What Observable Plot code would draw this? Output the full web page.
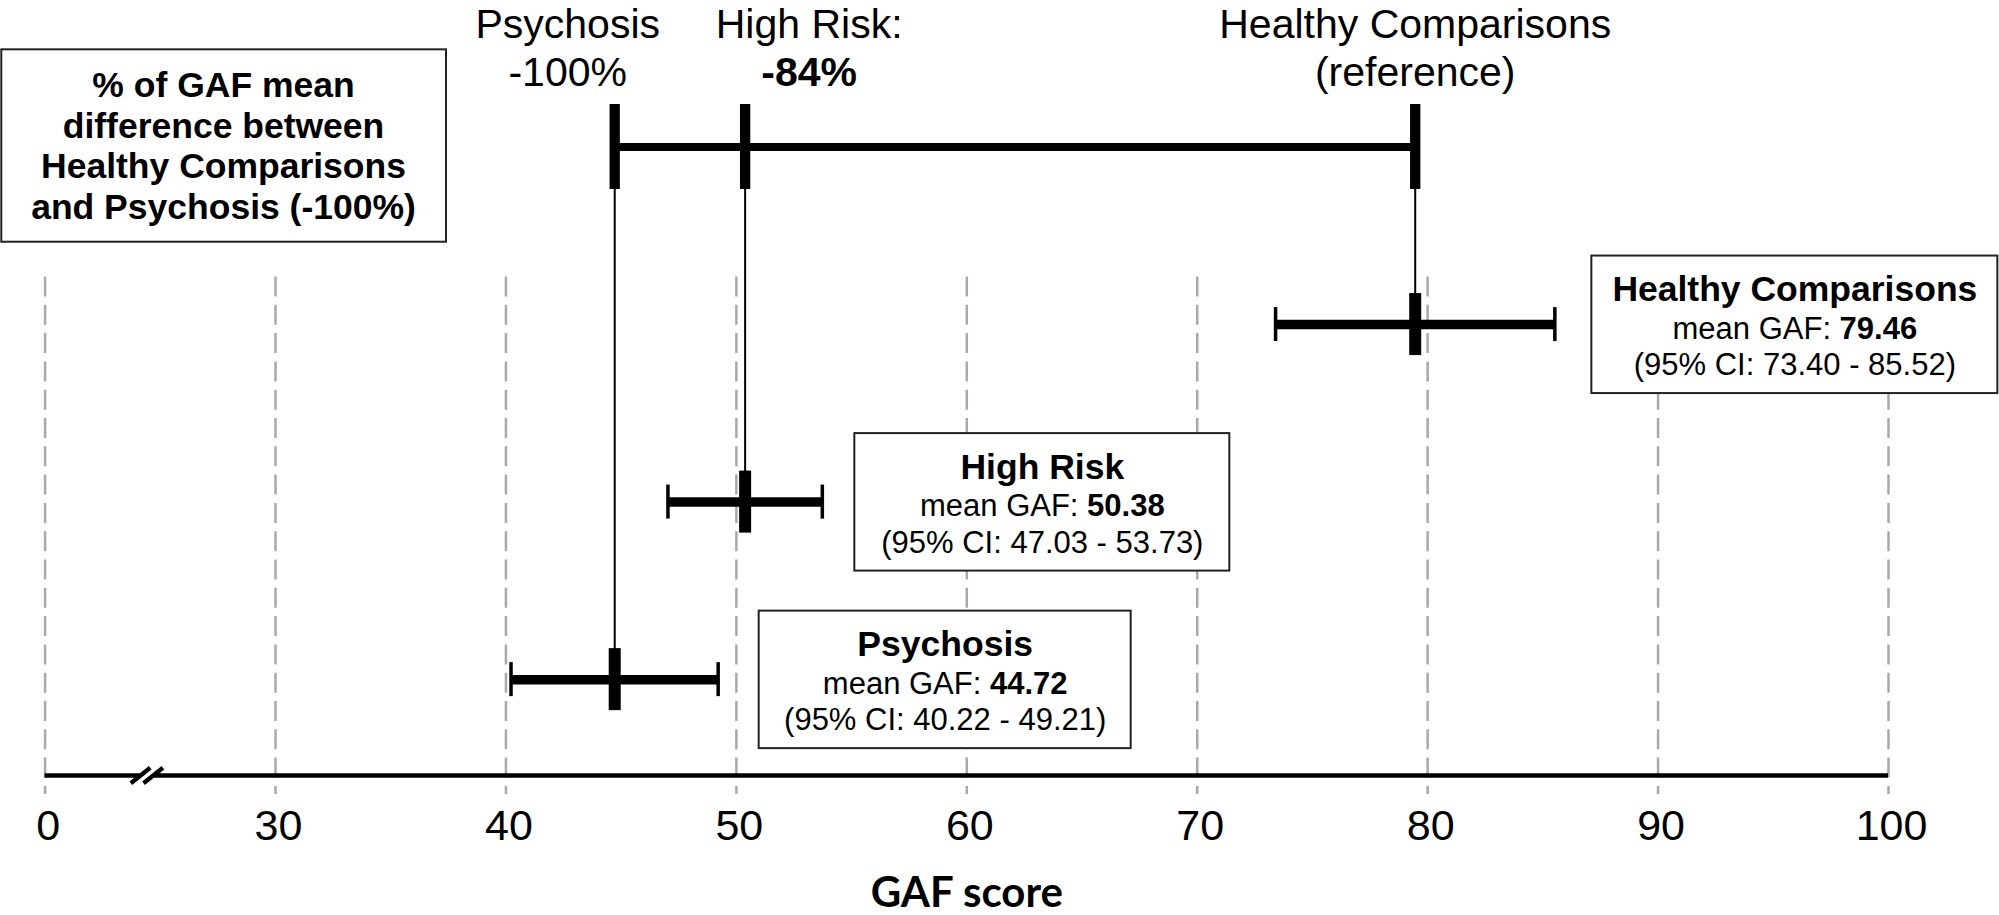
<!DOCTYPE html>
<html>
<head>
<meta charset="utf-8">
<script src="https://cdn.jsdelivr.net/npm/d3@7"></script>
<script src="https://cdn.jsdelivr.net/npm/@observablehq/plot@0.6"></script>
<style>
  html, body { margin: 0; padding: 0; background: #fff; overflow: hidden; }
  #chart svg { display: block; }
</style>
</head>
<body>
<div id="chart"></div>
<script>
// ---------------- data ----------------
const groups = ["Healthy Comparisons", "High Risk", "Psychosis"];
const meanGAF = [79.46, 50.38, 44.72];
const ciLow = [73.40, 47.03, 40.22];
const ciHigh = [85.52, 53.73, 49.21];
const topLabels = ["Healthy Comparisons", "High Risk:", "Psychosis"];
const referenceLabel = "(reference)";
const xTicks = [0, 30, 40, 50, 60, 70, 80, 90, 100];
const xTickLabels = ["0", "30", "40", "50", "60", "70", "80", "90", "100"];
const axisLabel = "GAF score";
const noteLines = ["% of GAF mean", "difference between", "Healthy Comparisons", "and Psychosis (-100%)"];

// ---------------- derived table ----------------
const refMean = meanGAF[0];
const psyMean = meanGAF[groups.length - 1];
const data = groups.map((g, i) => ({
  group: g,
  mean: meanGAF[i],
  lo: ciLow[i],
  hi: ciHigh[i],
  row: groups.length - i,
  top1: topLabels[i],
  top2: i === 0 ? referenceLabel
      : `-${Math.round((refMean - meanGAF[i]) / (refMean - psyMean) * 100)}%`
}));

// ---------------- layout ----------------
const W = 1999, H = 915;
const mL = 44.6, mR = 111, mT = 40, mB = 140;
const yDomain = [0.46, 4.6];
const yTop = 4;                                   // bracket row
const pxPerUnit = (H - mT - mB) / (yDomain[1] - yDomain[0]);
const u = px => px / pxPerUnit;
const xRange = xTicks.map((_, i) => mL + i * (W - mL - mR) / (xTicks.length - 1));
const F = "Liberation Sans, Arial, Helvetica, sans-serif";
const topDx = [0, 64, -47];
const boxDx = [240, 220, 227];     // text/box centre offset from upper CI (px)
const boxW = [406, 375, 372];      // box widths (px)
const breakAt = 13.25;

const slashPair = {
  draw(ctx) {
    for (const o of [-6.35, 6.35]) {
      ctx.moveTo(o - 9.7, 7.7);
      ctx.lineTo(o + 9.7, -7.7);
    }
  }
};
const slashGap = {
  draw(ctx) {
    ctx.moveTo(-11, 8.7);
    ctx.lineTo(11, -8.7);
  }
};

const boxStyle = {fill: "#fff", stroke: "#222", strokeWidth: 2};

const marks = [
  // dashed grid
  Plot.ruleX(xTicks, {x: d => d, y1: yTop - u(130), y2: yDomain[0] - u(19),
    stroke: "#a9a9a9", strokeWidth: 2.5, strokeDasharray: "20 8.3"}),
  // axis line
  Plot.ruleY([yDomain[0]], {x1: xTicks[0], x2: xTicks[xTicks.length - 1], stroke: "#000", strokeWidth: 4.5}),
  // axis break
  Plot.dot([breakAt], {x: d => d, y: yDomain[0], symbol: slashGap, fill: "none", stroke: "#fff", strokeWidth: 8.5, r: 5}),
  Plot.dot([breakAt], {x: d => d, y: yDomain[0], symbol: slashPair, fill: "none", stroke: "#000", strokeWidth: 4.3, r: 5}),
  // connectors
  Plot.ruleX(data, {x: "mean", y1: yTop, y2: "row", stroke: "#000", strokeWidth: 2}),
  // bracket
  Plot.ruleY([yTop], {x1: d3.min(meanGAF), x2: d3.max(meanGAF), stroke: "#000", strokeWidth: 8}),
  Plot.ruleX(data, {x: "mean", y1: yTop - u(42.5), y2: yTop + u(42.5), stroke: "#000", strokeWidth: 10.3}),
  // CI bars
  Plot.ruleY(data, {y: "row", x1: "lo", x2: "hi", stroke: "#000", strokeWidth: 9.5}),
  Plot.ruleX(data.flatMap(d => [{v: d.lo, row: d.row}, {v: d.hi, row: d.row}]),
    {x: "v", y1: d => d.row - u(17), y2: d => d.row + u(17), stroke: "#000", strokeWidth: 3.5}),
  // mean markers
  Plot.ruleX(data, {x: "mean", y1: d => d.row - u(31), y2: d => d.row + u(31), stroke: "#000", strokeWidth: 12}),
  // tick labels
  Plot.text(xTicks, {x: d => d, text: (d, i) => xTickLabels[i], frameAnchor: "bottom", dy: 64, dx: 3,
    lineAnchor: "bottom", fontSize: 43, fontFamily: F, fill: "#000"}),
  // axis title
  Plot.text([axisLabel], {frameAnchor: "bottom", dy: 131, lineAnchor: "bottom",
    fontSize: 42, fontFamily: "Lato, Open Sans, sans-serif", fontWeight: 700, fill: "#000"}),
  // top labels
  ...data.map((d, i) => Plot.text([d], {x: "mean", y: yTop, text: "top1", dx: topDx[i], dy: -109.5,
    lineAnchor: "bottom", fontSize: 41, fontFamily: F, fill: "#000"})),
  ...data.map((d, i) => Plot.text([d], {x: "mean", y: yTop, text: "top2", dx: topDx[i], dy: -61.5,
    lineAnchor: "bottom", fontSize: 41, fontFamily: F, fill: "#000", fontWeight: i === 1 ? "bold" : "normal"})),
  // note box
  Plot.rect([noteLines], {x1: xTicks[0], x2: xTicks[0], y1: yTop, y2: yTop,
    insetLeft: -43.3, insetRight: -401.4, insetTop: -97.2, insetBottom: -95.2, ...boxStyle}),
  Plot.text([noteLines.join("\n")], {frameAnchor: "top-left", textAnchor: "middle", dx: 178.4, dy: 178.3,
    lineAnchor: "bottom", lineHeight: 40.5 / 35.5, fontSize: 35.5, fontWeight: "bold", fontFamily: F,
    fill: "#000"}),
  // group boxes
  ...data.flatMap((d, i) => [
    Plot.rect([d], {x1: "hi", x2: "hi", y1: "row", y2: "row",
      insetLeft: boxDx[i] - boxW[i] / 2, insetRight: -(boxDx[i] + boxW[i] / 2),
      insetTop: -68.5, insetBottom: -69, ...boxStyle}),
    Plot.text([d], {x: "hi", y: "row", dx: boxDx[i], dy: -23.3, text: "group", lineAnchor: "bottom",
      fontSize: 35.5, fontWeight: "bold", fontFamily: F, fill: "#000"}),
    Plot.text([d], {x: "hi", y: "row", dx: boxDx[i], dy: 14.3, text: v => `mean GAF: ${v.mean.toFixed(2)}`,
      lineAnchor: "bottom", fontSize: 31, fontFamily: F, fill: "#000"}),
    Plot.text([d], {x: "hi", y: "row", dx: boxDx[i], dy: 50.8,
      text: v => `(95% CI: ${v.lo.toFixed(2)} - ${v.hi.toFixed(2)})`,
      lineAnchor: "bottom", fontSize: 31, fontFamily: F, fill: "#000"})
  ])
];

const svg = Plot.plot({
  width: W, height: H,
  marginLeft: mL, marginRight: mR, marginTop: mT, marginBottom: mB,
  x: {type: "linear", domain: xTicks, range: xRange, axis: null},
  y: {type: "linear", domain: yDomain, axis: null},
  style: {fontFamily: F, color: "#000", background: "#fff"},
  marks
});
document.getElementById("chart").append(svg);

// bold value in "mean GAF: xx.xx"
const NS = "http://www.w3.org/2000/svg";
svg.querySelectorAll("text").forEach(t => {
  const s = t.textContent;
  if (!s.startsWith("mean GAF:")) return;
  const k = s.lastIndexOf(" ");
  t.textContent = s.slice(0, k + 1);
  t.style.whiteSpace = "pre";
  const ts = document.createElementNS(NS, "tspan");
  ts.setAttribute("font-weight", "bold");
  ts.textContent = s.slice(k + 1);
  t.appendChild(ts);
});
</script>
</body>
</html>
